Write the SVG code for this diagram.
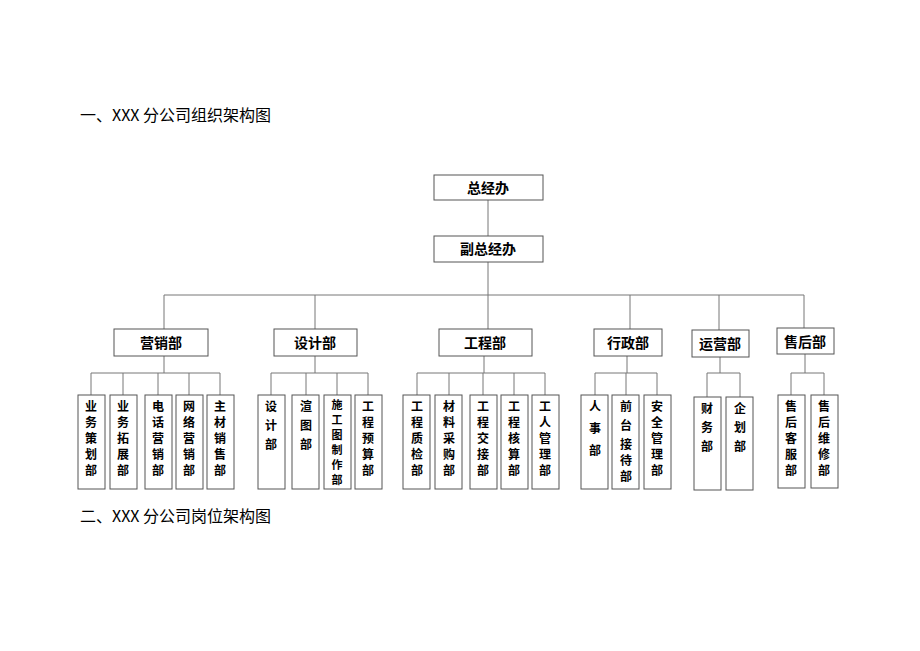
<svg xmlns="http://www.w3.org/2000/svg" width="920" height="651" viewBox="0 0 920 651">
<style>
.b{fill:#fff;stroke:#555;stroke-width:1}
.t{font-family:"Noto Sans CJK SC",sans-serif;font-size:14px;font-weight:bold;text-anchor:middle;fill:#000}
.v{font-family:"Noto Sans CJK SC",sans-serif;font-size:12px;font-weight:bold;text-anchor:middle;fill:#000}
.s{font-family:"Noto Sans CJK SC",sans-serif;font-size:11px;font-weight:bold;text-anchor:middle;fill:#000}
.h{font-family:"Noto Sans CJK SC",sans-serif;font-size:16px;fill:#000}
.c{stroke:#777;stroke-width:1;fill:none}
</style>
<rect width="920" height="651" fill="#fff"/>
<text class="h" x="80" y="121">一、XXX 分公司组织架构图</text>
<text class="h" x="80" y="522">二、XXX 分公司岗位架构图</text>
<g id="connectors">
<path class="c" d="M488 200V236M488 262V295M164 295H804M164 295V329M315 295V329M488 295V329M630 295V329M719 295V330M804 295V328"/>
<path class="c" d="M164 356V373M91 373H220M91 373V395M123 373V395M158 373V395M189 373V395M220 373V395"/>
<path class="c" d="M315 356V373M271 373H368M271 373V395M306 373V395M337 373V395M368 373V395"/>
<path class="c" d="M484 356V373M417 373H545M417 373V395M449 373V395M483 373V395M514 373V395M545 373V395"/>
<path class="c" d="M627 356V373M595 373H657M595 373V395M626 373V395M657 373V395"/>
<path class="c" d="M720 357V373M707 373H740M707 373V397M740 373V397"/>
<path class="c" d="M805 354V373M791 373H824M791 373V395M824 373V395"/>
</g>
<g id="n-zjb"><rect class="b" x="434" y="175" width="109" height="25"/><text class="t" x="488" y="193">总经办</text></g>
<g id="n-fzjb"><rect class="b" x="434" y="236" width="109" height="26"/><text class="t" x="488" y="254">副总经办</text></g>
<g id="n-yx"><rect class="b" x="114" y="329" width="94" height="27"/><text class="t" x="161" y="348">营销部</text></g>
<g id="n-sj"><rect class="b" x="274" y="329" width="83" height="27"/><text class="t" x="315" y="348">设计部</text></g>
<g id="n-gc"><rect class="b" x="439" y="329" width="93" height="27"/><text class="t" x="485" y="348">工程部</text></g>
<g id="n-xz"><rect class="b" x="594" y="329" width="68" height="27"/><text class="t" x="628" y="348">行政部</text></g>
<g id="n-yy"><rect class="b" x="692" y="330" width="57" height="27"/><text class="t" x="720" y="349">运营部</text></g>
<g id="n-sh"><rect class="b" x="777" y="328" width="57" height="26"/><text class="t" x="805" y="347">售后部</text></g>
<g id="leaves">
<g id="l1"><rect class="b" x="78" y="395" width="27" height="94"/><text class="v"><tspan x="91" y="411">业</tspan><tspan x="91" y="427">务</tspan><tspan x="91" y="443">策</tspan><tspan x="91" y="459">划</tspan><tspan x="91" y="475">部</tspan></text></g>
<g id="l2"><rect class="b" x="110" y="395" width="27" height="94"/><text class="v"><tspan x="123" y="411">业</tspan><tspan x="123" y="427">务</tspan><tspan x="123" y="443">拓</tspan><tspan x="123" y="459">展</tspan><tspan x="123" y="475">部</tspan></text></g>
<g id="l3"><rect class="b" x="145" y="395" width="27" height="94"/><text class="v"><tspan x="158" y="411">电</tspan><tspan x="158" y="427">话</tspan><tspan x="158" y="443">营</tspan><tspan x="158" y="459">销</tspan><tspan x="158" y="475">部</tspan></text></g>
<g id="l4"><rect class="b" x="176" y="395" width="27" height="94"/><text class="v"><tspan x="189" y="411">网</tspan><tspan x="189" y="427">络</tspan><tspan x="189" y="443">营</tspan><tspan x="189" y="459">销</tspan><tspan x="189" y="475">部</tspan></text></g>
<g id="l5"><rect class="b" x="207" y="395" width="27" height="94"/><text class="v"><tspan x="220" y="411">主</tspan><tspan x="220" y="427">材</tspan><tspan x="220" y="443">销</tspan><tspan x="220" y="459">售</tspan><tspan x="220" y="475">部</tspan></text></g>
<g id="l6"><rect class="b" x="258" y="395" width="27" height="94"/><text class="v"><tspan x="271" y="411">设</tspan><tspan x="271" y="430">计</tspan><tspan x="271" y="449">部</tspan></text></g>
<g id="l7"><rect class="b" x="292" y="395" width="27" height="94"/><text class="v"><tspan x="306" y="411">渲</tspan><tspan x="306" y="430">图</tspan><tspan x="306" y="449">部</tspan></text></g>
<g id="l8"><rect class="b" x="324" y="395" width="27" height="94"/><text class="s"><tspan x="337" y="409">施</tspan><tspan x="337" y="424">工</tspan><tspan x="337" y="439">图</tspan><tspan x="337" y="454">制</tspan><tspan x="337" y="469">作</tspan><tspan x="337" y="484">部</tspan></text></g>
<g id="l9"><rect class="b" x="355" y="395" width="27" height="94"/><text class="v"><tspan x="368" y="411">工</tspan><tspan x="368" y="427">程</tspan><tspan x="368" y="443">预</tspan><tspan x="368" y="459">算</tspan><tspan x="368" y="475">部</tspan></text></g>
<g id="l10"><rect class="b" x="403" y="395" width="27" height="94"/><text class="v"><tspan x="417" y="411">工</tspan><tspan x="417" y="427">程</tspan><tspan x="417" y="443">质</tspan><tspan x="417" y="459">检</tspan><tspan x="417" y="475">部</tspan></text></g>
<g id="l11"><rect class="b" x="435" y="395" width="27" height="94"/><text class="v"><tspan x="449" y="411">材</tspan><tspan x="449" y="427">料</tspan><tspan x="449" y="443">采</tspan><tspan x="449" y="459">购</tspan><tspan x="449" y="475">部</tspan></text></g>
<g id="l12"><rect class="b" x="470" y="395" width="27" height="94"/><text class="v"><tspan x="483" y="411">工</tspan><tspan x="483" y="427">程</tspan><tspan x="483" y="443">交</tspan><tspan x="483" y="459">接</tspan><tspan x="483" y="475">部</tspan></text></g>
<g id="l13"><rect class="b" x="501" y="395" width="27" height="94"/><text class="v"><tspan x="514" y="411">工</tspan><tspan x="514" y="427">程</tspan><tspan x="514" y="443">核</tspan><tspan x="514" y="459">算</tspan><tspan x="514" y="475">部</tspan></text></g>
<g id="l14"><rect class="b" x="532" y="395" width="27" height="94"/><text class="v"><tspan x="545" y="411">工</tspan><tspan x="545" y="427">人</tspan><tspan x="545" y="443">管</tspan><tspan x="545" y="459">理</tspan><tspan x="545" y="475">部</tspan></text></g>
<g id="l15"><rect class="b" x="581" y="395" width="27" height="94"/><text class="v"><tspan x="595" y="411">人</tspan><tspan x="595" y="433">事</tspan><tspan x="595" y="455">部</tspan></text></g>
<g id="l16"><rect class="b" x="612" y="395" width="27" height="94"/><text class="v"><tspan x="626" y="411">前</tspan><tspan x="626" y="430">台</tspan><tspan x="626" y="449">接</tspan><tspan x="626" y="465">待</tspan><tspan x="626" y="481">部</tspan></text></g>
<g id="l17"><rect class="b" x="644" y="395" width="27" height="94"/><text class="v"><tspan x="657" y="411">安</tspan><tspan x="657" y="427">全</tspan><tspan x="657" y="443">管</tspan><tspan x="657" y="459">理</tspan><tspan x="657" y="475">部</tspan></text></g>
<g id="l18"><rect class="b" x="694" y="397" width="27" height="93"/><text class="v"><tspan x="707" y="413">财</tspan><tspan x="707" y="432">务</tspan><tspan x="707" y="451">部</tspan></text></g>
<g id="l19"><rect class="b" x="726" y="397" width="27" height="93"/><text class="v"><tspan x="740" y="413">企</tspan><tspan x="740" y="432">划</tspan><tspan x="740" y="451">部</tspan></text></g>
<g id="l20"><rect class="b" x="778" y="395" width="27" height="93"/><text class="v"><tspan x="791" y="411">售</tspan><tspan x="791" y="427">后</tspan><tspan x="791" y="443">客</tspan><tspan x="791" y="459">服</tspan><tspan x="791" y="475">部</tspan></text></g>
<g id="l21"><rect class="b" x="811" y="395" width="27" height="93"/><text class="v"><tspan x="824" y="411">售</tspan><tspan x="824" y="427">后</tspan><tspan x="824" y="443">维</tspan><tspan x="824" y="459">修</tspan><tspan x="824" y="475">部</tspan></text></g>
</g>
</svg>
